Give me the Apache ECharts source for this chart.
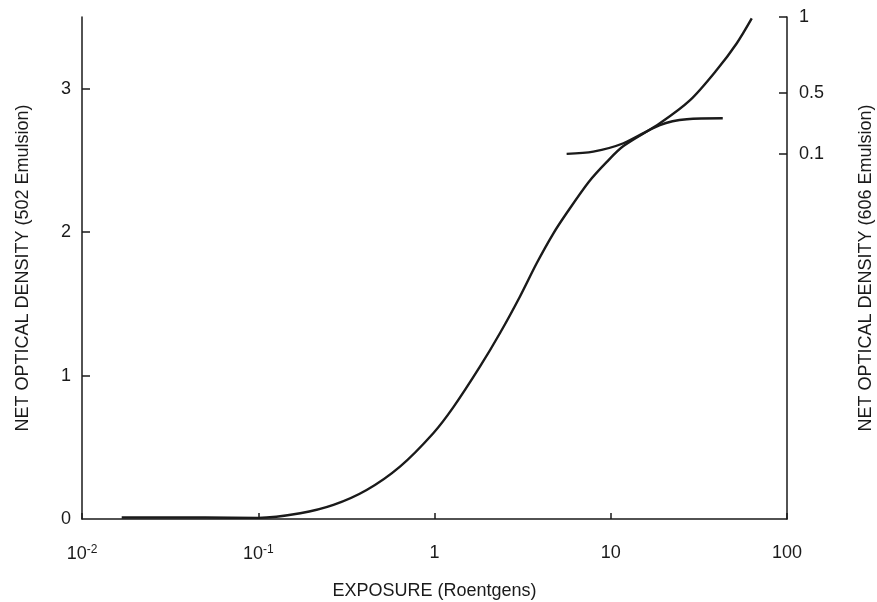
<!DOCTYPE html>
<html>
<head>
<meta charset="utf-8">
<script src="https://cdn.jsdelivr.net/npm/echarts@6/dist/echarts.min.js"></script>
<style>
  html, body { margin: 0; padding: 0; background: #fff; }
  #chart { width: 877px; height: 602px; }
</style>
</head>
<body>
<div id="chart"></div>
<script>
// 502 emulsion curve (left axis), exposure in Roentgens
var exp502 = [0.0168, 0.05, 0.1, 0.173, 0.267, 0.412, 0.637, 0.984, 1.28, 1.81, 2.35, 3.05, 3.80, 4.72, 5.6, 7.5, 9.5, 11.8, 19.0, 28.2, 39.9, 51.9, 63.1];
var od502  = [0.01, 0.01, 0.008, 0.04, 0.098, 0.202, 0.365, 0.598, 0.78, 1.062, 1.295, 1.55, 1.783, 1.99, 2.13, 2.35, 2.49, 2.60, 2.759, 2.92, 3.13, 3.317, 3.49];

// 606 emulsion curve (right axis)
var exp606 = [5.62, 7.96, 11.8, 19.0, 27.0, 43.2];
var od606  = [0.100, 0.115, 0.170, 0.290, 0.328, 0.334];

var leftTicks = [0, 1, 2, 3];
var rightTicks = [0.1, 0.5, 1];

function pairs(xs, ys) {
  var out = [];
  for (var i = 0; i < xs.length; i++) out.push([xs[i], ys[i]]);
  return out;
}

var font = '"Liberation Sans", Arial, sans-serif';
var ink = '#1a1a1a';

var chart = echarts.init(document.getElementById('chart'));
var option = {
  backgroundColor: '#fff',
  animation: false,
  textStyle: { fontFamily: font, color: ink },
  grid: { left: 82, right: 90, top: 17, bottom: 83, outerBoundsMode: 'none', containLabel: false },
  xAxis: {
    type: 'log',
    logBase: 10,
    min: 0.01,
    max: 100,
    name: 'EXPOSURE (Roentgens)',
    nameLocation: 'middle',
    nameGap: 63,
    nameTextStyle: { fontSize: 18, color: ink, fontFamily: font },
    axisLine: { lineStyle: { color: ink, width: 1.5 } },
    axisTick: { inside: true, length: 6, lineStyle: { color: ink, width: 1.5 } },
    splitLine: { show: false },
    axisLabel: {
      margin: 25,
      fontSize: 18,
      color: ink,
      fontFamily: font,
      formatter: function (v) {
        // 0.01 -> 10^-2, 0.1 -> 10^-1
        if (v < 1) {
          var e = Math.round(Math.log(v) / Math.LN10);
          return '{b|10}{s|' + e + '}';
        }
        return '{b|' + Math.round(v) + '}';
      },
      rich: {
        b: { fontSize: 18, fontFamily: font, color: ink },
        s: { fontSize: 12, fontFamily: font, color: ink, padding: [0, 0, 9, 0] }
      }
    }
  },
  yAxis: [
    {
      type: 'value',
      min: 0,
      max: 3.5,
      position: 'left',
      name: 'NET OPTICAL DENSITY (502 Emulsion)',
      nameLocation: 'middle',
      nameRotate: 90,
      nameGap: 50,
      nameTextStyle: { fontSize: 18, color: ink, fontFamily: font },
      axisLine: { show: true, lineStyle: { color: ink, width: 1.5 } },
      axisTick: { show: true, inside: true, length: 8, customValues: [1, 2, 3], lineStyle: { color: ink, width: 1.5 } },
      axisLabel: { margin: 11, fontSize: 18, color: ink, fontFamily: font, customValues: leftTicks },
      splitLine: { show: false }
    },
    {
      type: 'value',
      min: -2.3,
      max: 1,
      position: 'right',
      name: 'NET OPTICAL DENSITY (606 Emulsion)',
      nameLocation: 'middle',
      nameRotate: 90,
      nameGap: 70,
      nameTextStyle: { fontSize: 18, color: ink, fontFamily: font },
      axisLine: { show: true, lineStyle: { color: ink, width: 1.5 } },
      axisTick: { show: true, inside: true, length: 8, customValues: rightTicks, lineStyle: { color: ink, width: 1.5 } },
      axisLabel: { margin: 12, fontSize: 18, color: ink, fontFamily: font, customValues: rightTicks },
      splitLine: { show: false }
    }
  ],
  series: [
    {
      name: '502 Emulsion',
      type: 'line',
      yAxisIndex: 0,
      data: pairs(exp502, od502),
      smooth: 0.3,
      showSymbol: false,
      lineStyle: { color: ink, width: 2.4 }
    },
    {
      name: '606 Emulsion',
      type: 'line',
      yAxisIndex: 1,
      data: pairs(exp606, od606),
      smooth: 0.3,
      showSymbol: false,
      lineStyle: { color: ink, width: 2.4 }
    }
  ]
};
chart.setOption(option);
</script>
</body>
</html>
